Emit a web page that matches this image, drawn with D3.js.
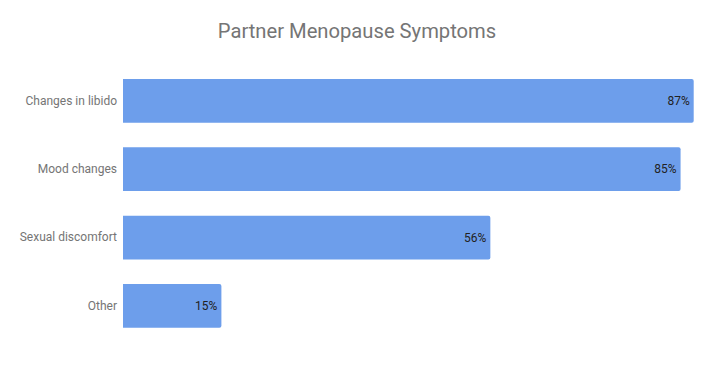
<!DOCTYPE html>
<html><head><meta charset="utf-8">
<script src="https://cdn.jsdelivr.net/npm/d3@7"></script>
<style>body{margin:0;background:#fff}svg{display:block}</style>
</head><body>
<script>
const categories = ["Changes in libido", "Mood changes", "Sexual discomfort", "Other"];
const values = [87, 85, 56, 15];
const title = "Partner Menopause Symptoms";

const W = 713, H = 371;
const svg = d3.select("body").append("svg").attr("width", W).attr("height", H);
svg.append("rect").attr("width", W).attr("height", H).attr("fill", "#fff");

const x = d3.scaleLinear().domain([0, 87]).range([123, 693.7]);
const y = d3.scaleBand().domain(categories).range([66.7, 340]).paddingInner(0.36).paddingOuter(0.18);

svg.append("text").attr("x", 357).attr("y", 38).attr("text-anchor", "middle")
  .attr("font-family", "Roboto, sans-serif").attr("font-size", 20.2).attr("fill", "#757575").text(title);

const data = categories.map((c, i) => ({c, v: values[i]}));
const r = 2;
svg.selectAll("path.bar").data(data).join("path").attr("class", "bar")
  .attr("fill", "#6d9eeb")
  .attr("d", d => {
    const x0 = x(0), x1 = x(d.v), y0 = y(d.c), h = y.bandwidth();
    return `M${x0},${y0}H${x1 - r}Q${x1},${y0} ${x1},${y0 + r}V${y0 + h - r}Q${x1},${y0 + h} ${x1 - r},${y0 + h}H${x0}Z`;
  });

svg.selectAll("text.val").data(data).join("text").attr("class", "val")
  .attr("x", d => x(d.v) - 4).attr("y", d => y(d.c) + y.bandwidth() / 2)
  .attr("dy", "0.35em").attr("text-anchor", "end")
  .attr("font-family", "Roboto, sans-serif").attr("font-size", 12).attr("fill", "#222")
  .text(d => d.v + "%");

const yAxis = d3.axisLeft(y).tickSize(0).tickPadding(6);
const g = svg.append("g").attr("transform", `translate(${x(0)},0)`).call(yAxis);
g.select(".domain").remove();
g.selectAll("text").attr("font-family", "Roboto, sans-serif").attr("font-size", 12).attr("fill", "#757575");
</script>
</body></html>
